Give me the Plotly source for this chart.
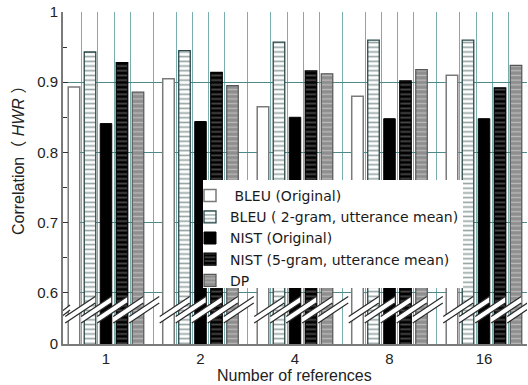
import plotly.graph_objects as go

# ---------------- data ----------------
categories = ["1", "2", "4", "8", "16"]
series_names = [
    " BLEU (Original)",
    "BLEU ( 2-gram, utterance mean)",
    "NIST (Original)",
    "NIST (5-gram, utterance mean)",
    "DP",
]
bleu_orig = [0.893, 0.905, 0.865, 0.880, 0.910]
bleu_2gram = [0.943, 0.945, 0.957, 0.960, 0.960]
nist_orig = [0.841, 0.844, 0.850, 0.848, 0.848]
nist_5gram = [0.928, 0.914, 0.916, 0.902, 0.892]
dp = [0.886, 0.895, 0.912, 0.918, 0.924]
y_tick_values = [0.6, 0.7, 0.8, 0.9, 1.0]
y_tick_labels = ["0.6", "0.7", "0.8", "0.9", "1"]
y_minor_values = [0.65, 0.75, 0.85, 0.95]

# ---------------- layout constants ----------------
W, H = 528, 385
ML, MR, MT, MB = 63, 1, 12, 41
Y_BOT = 0.527            # broken axis: bottom of axis represents 0
X_MIN, X_MAX = -0.455, 4.455
BARGAP = 0.153
BARGROUPGAP = 0.28
N = 5
slot = (1 - BARGAP) / N

plot_w = W - ML - MR
plot_h = H - MT - MB
PXX = plot_w / (X_MAX - X_MIN)
PXY = plot_h / (1.0 - Y_BOT)


def px_x(p):
    return (p - ML) / plot_w


def px_y(p):
    return (H - MB - p) / plot_h


xs = list(range(len(categories)))
all_series = [bleu_orig, bleu_2gram, nist_orig, nist_5gram, dp]

styles = [
    dict(color="white", line=dict(color="#7a7a7a", width=1.5), pattern=None),
    dict(color="white", line=dict(color="#2b4848", width=1.3),
         pattern=dict(shape="-", bgcolor="white", fgcolor="#2b4848", size=4.7, solidity=0.35)),
    dict(color="black", line=dict(color="black", width=1), pattern=None),
    dict(color="black", line=dict(color="black", width=1.2),
         pattern=dict(shape="-", bgcolor="black", fgcolor="#8c8c8c", size=4.7, solidity=0.4)),
    dict(color="#8e8e8e", line=dict(color="#555555", width=1.2),
         pattern=dict(shape="-", bgcolor="#8e8e8e", fgcolor="#e8e8e8", size=4.7, solidity=0.28)),
]

fig = go.Figure()
for name, vals, st in zip(series_names, all_series, styles):
    marker = dict(color=st["color"], line=st["line"])
    if st["pattern"] is not None:
        marker["pattern"] = st["pattern"]
    fig.add_trace(go.Bar(x=xs, y=vals, name=name, marker=marker))

# ---------------- vertical grid lines (between bars / groups) ----------------
minor_x = []
for k in xs:
    minor_x.append(k - 0.5)
    for j in range(1, N):
        minor_x.append(k - (1 - BARGAP) / 2 + j * slot)
minor_x.append(xs[-1] + 0.5)

# ---------------- axis break marks ----------------
shapes = []
yb = Y_BOT + (344 - 323) / PXY   # lower-left of the break band
band_dx = 30 / PXX
band_dy = 20 / PXY
thick = 6.5 / PXY
for k in xs:
    for i in range(N):
        xc = k - (1 - BARGAP) / 2 + (i + 0.5) * slot
        xl = xc - slot * (1 - BARGROUPGAP) / 2 - 3 / PXX
        xr = xl + band_dx
        shapes.append(dict(type="path", xref="x", yref="y", layer="above",
                           path=f"M{xl},{yb} L{xr},{yb + band_dy} L{xr},{yb + band_dy + thick} L{xl},{yb + thick} Z",
                           fillcolor="white", line=dict(width=0)))
        shapes.append(dict(type="line", xref="x", yref="y", layer="above",
                           x0=xl, y0=yb, x1=xr, y1=yb + band_dy,
                           line=dict(color="#2a2a2a", width=1.2)))
        shapes.append(dict(type="line", xref="x", yref="y", layer="above",
                           x0=xl, y0=yb + thick, x1=xr, y1=yb + band_dy + thick,
                           line=dict(color="#2a2a2a", width=1.2)))
# break on the y axis
ax0 = X_MIN - 6 / PXX
ax1 = X_MIN + 7 / PXX
ayb = Y_BOT + (344 - 320) / PXY
ady = 10 / PXY
athick = 5 / PXY
shapes.append(dict(type="path", xref="x", yref="y", layer="above",
                   path=f"M{ax0},{ayb} L{ax1},{ayb + ady} L{ax1},{ayb + ady + athick} L{ax0},{ayb + athick} Z",
                   fillcolor="white", line=dict(width=0)))
shapes.append(dict(type="line", xref="x", yref="y", layer="above",
                   x0=ax0, y0=ayb, x1=ax1, y1=ayb + ady, line=dict(color="#2a2a2a", width=1.2)))
shapes.append(dict(type="line", xref="x", yref="y", layer="above",
                   x0=ax0, y0=ayb + athick, x1=ax1, y1=ayb + ady + athick, line=dict(color="#2a2a2a", width=1.2)))

# white backing box for the legend
shapes.append(dict(type="rect", xref="paper", yref="paper", layer="above",
                   x0=px_x(203), x1=px_x(463), y0=px_y(288), y1=px_y(180),
                   fillcolor="white", line=dict(width=0)))

TICK_FONT = dict(family="Liberation Sans, Arial, sans-serif", size=15, color="#222222")

fig.update_layout(
    width=W, height=H,
    margin=dict(l=ML, r=MR, t=MT, b=MB),
    paper_bgcolor="white", plot_bgcolor="white",
    barmode="group", bargap=BARGAP, bargroupgap=BARGROUPGAP,
    showlegend=True,
    legend=dict(
        x=px_x(190), y=px_y(180),
        xanchor="left", yanchor="top",
        bgcolor="rgba(0,0,0,0)", borderwidth=0,
        font=dict(family="DejaVu Sans, sans-serif", size=14, color="#1a1a1a"),
        tracegroupgap=0,
    ),
    shapes=shapes,
    xaxis=dict(
        range=[X_MIN, X_MAX],
        tickmode="array", tickvals=xs, ticktext=categories,
        showgrid=False, zeroline=False,
        showline=True, linecolor="#7a7a7a", linewidth=2,
        ticks="", tickfont=TICK_FONT,
        minor=dict(tickmode="array", tickvals=minor_x, showgrid=True,
                   gridcolor="#78aeae", gridwidth=1, ticks=""),
    ),
    yaxis=dict(
        range=[Y_BOT, 1.0],
        tickmode="array",
        tickvals=[Y_BOT] + y_tick_values,
        ticktext=["0"] + y_tick_labels,
        showgrid=True, gridcolor="#4e8a8a", gridwidth=1,
        zeroline=False,
        showline=True, linecolor="#7a7a7a", linewidth=2,
        ticks="inside", ticklen=5, tickcolor="#333333", tickwidth=1,
        tickfont=TICK_FONT,
        minor=dict(tickmode="array", tickvals=y_minor_values, ticks="inside",
                   ticklen=4, tickcolor="#333333", showgrid=False),
    ),
    annotations=[
        dict(text="Correlation（ <i>HWR</i> ）", xref="paper", yref="paper",
             x=px_x(18), y=px_y(157),
             xanchor="center", yanchor="middle", textangle=-90, showarrow=False,
             font=dict(family="Liberation Sans, Noto Sans CJK JP, sans-serif", size=16, color="#222222")),
        dict(text="Number of references", xref="paper", yref="paper",
             x=px_x(294), y=px_y(375),
             xanchor="center", yanchor="middle", showarrow=False,
             font=dict(family="Liberation Sans, Arial, sans-serif", size=16, color="#222222")),
    ],
)

fig.write_html("out.html")
